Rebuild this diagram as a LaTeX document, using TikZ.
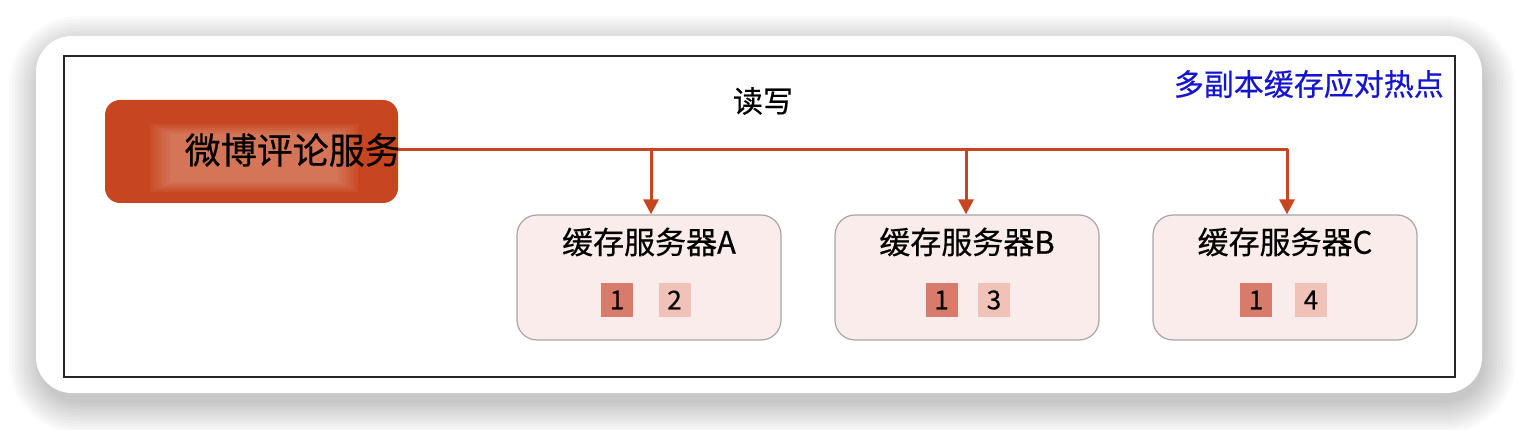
\documentclass[tikz,border=0pt]{standalone}
\usepackage{fontspec}
\setmainfont{Noto Sans CJK SC}[FakeBold=0.5]
\usetikzlibrary{arrows.meta}
\definecolor{brick}{HTML}{C8461F}
\definecolor{cachefill}{HTML}{F9ECEA}
\definecolor{sq1}{HTML}{D97B6A}
\definecolor{sq2}{HTML}{F0C2B8}
\definecolor{bluetxt}{HTML}{1515D0}
\tikzset{
  cachebox/.style={draw=gray!70, line width=1.2pt, fill=cachefill, rounded corners=20pt},
  sqdark/.style={fill=sq1, minimum width=32pt, minimum height=34pt, inner sep=0pt, font=\fontsize{26}{28}\selectfont},
  sqlight/.style={fill=sq2, minimum width=32pt, minimum height=34pt, inner sep=0pt, font=\fontsize{26}{28}\selectfont},
  ctitle/.style={font=\fontsize{31}{33}\selectfont, inner sep=0pt},
  link/.style={draw=brick, line width=3pt},
  arr/.style={link, -{Triangle[length=15pt,width=15pt]}}
}
\begin{document}
\begin{tikzpicture}[x=1pt,y=-1pt]
\useasboundingbox (0,0) rectangle (1518,430);
\fill[white] (0,0) rectangle (1518,430);
% soft shadow
\foreach \i in {30,27,...,0}{
  \fill[black, opacity=0.018, rounded corners=40pt+\i] (36-\i+3,36-\i+10) rectangle (1482+\i+3,393+\i+10);
}
\fill[white, rounded corners=36pt] (36,36) rectangle (1482,393);
\draw[line width=2pt, black!85] (64,56) rectangle (1455,377);
% source node
\node[fill=brick, rounded corners=15pt, minimum width=293pt, minimum height=103pt, inner sep=0pt] (svc) at (251.5,151.5) {};
\foreach \i in {0,4,...,20}{
  \fill[white, opacity=0.05] (150+\i,124+\i*0.5) rectangle (358-\i,192-\i*0.5);
}
\node[font=\fontsize{36}{38}\selectfont, inner sep=0pt, anchor=east] (svct) at (401,150) {微博评论服务};
% label
\node[font=\fontsize{30}{32}\selectfont, inner sep=0pt] (rw) at (763,101) {读写};
\node[font=\fontsize{30}{32}\selectfont, text=bluetxt, inner sep=0pt, anchor=east] (title) at (1444,84) {多副本缓存应对热点};
% cache boxes
\node[cachebox, minimum width=264pt, minimum height=125pt] (ca) at (649,277.5) {};
\node[cachebox, minimum width=264pt, minimum height=125pt] (cb) at (967,277.5) {};
\node[cachebox, minimum width=264pt, minimum height=125pt] (cc) at (1285,277.5) {};
\node[ctitle] (cat) at (649,242) {缓存服务器A};
\node[ctitle] (cbt) at (967,242) {缓存服务器B};
\node[ctitle] (cct) at (1285,242) {缓存服务器C};
\node[sqdark] (a1) at (617,300) {1};
\node[sqlight] (a2) at (674.5,300) {2};
\node[sqdark] (b1) at (941.5,300) {1};
\node[sqlight] (b3) at (994,300) {3};
\node[sqdark] (c1) at (1256,300) {1};
\node[sqlight] (c4) at (1311,300) {4};
% connectors
\coordinate (ja) at (651,150);
\coordinate (jb) at (966,150);
\coordinate (jc) at (1287,150);
\draw[arr] (ja) -- (ja |- ca.north);
\draw[arr] (jb) -- (jb |- cb.north);
\draw[arr, line join=round] (svc.east |- jc) -- (jc) -- (jc |- cc.north);
\end{tikzpicture}
\end{document}
